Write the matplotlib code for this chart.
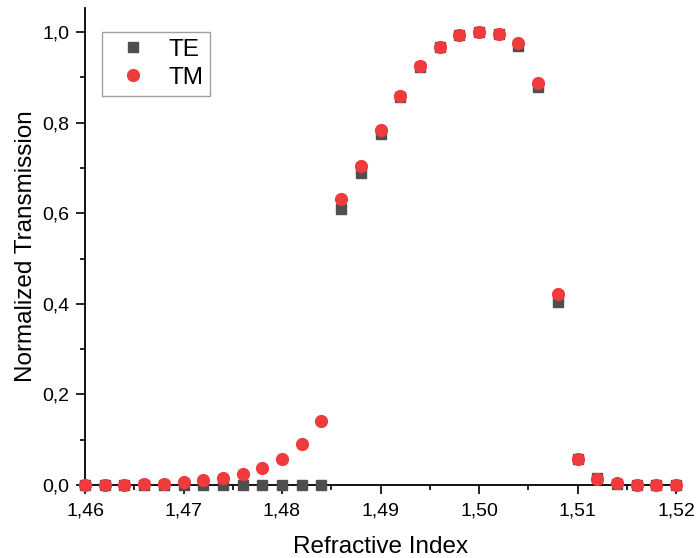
import matplotlib
matplotlib.use("Agg")
import matplotlib.pyplot as plt
from matplotlib.ticker import MultipleLocator, FuncFormatter

plt.rcParams['font.family'] = ['Liberation Sans', 'DejaVu Sans']

n_index = [1.460, 1.462, 1.464, 1.466, 1.468, 1.470, 1.472, 1.474, 1.476, 1.478,
           1.480, 1.482, 1.484, 1.486, 1.488, 1.490, 1.492, 1.494, 1.496, 1.498,
           1.500, 1.502, 1.504, 1.506, 1.508, 1.510, 1.512, 1.514, 1.516, 1.518, 1.520]
te = [0.0, 0.0, 0.0, 0.0, 0.0, 0.0, 0.0, 0.0, 0.0, 0.0,
      0.0, 0.0, 0.0, 0.609, 0.689, 0.774, 0.856, 0.923, 0.968, 0.993,
      1.0, 0.995, 0.970, 0.878, 0.404, 0.057, 0.016, 0.003, 0.0, 0.0, 0.0]
tm = [0.0, 0.0, 0.001, 0.002, 0.003, 0.007, 0.011, 0.016, 0.024, 0.037,
      0.058, 0.091, 0.141, 0.631, 0.704, 0.784, 0.859, 0.924, 0.968, 0.993,
      1.0, 0.996, 0.975, 0.887, 0.422, 0.058, 0.013, 0.004, 0.001, 0.0, 0.0]

fig = plt.figure(figsize=(6.97, 5.58), dpi=100)
ax = fig.add_axes([85/697, 1-485/558, 591/697, 477/558])

ax.plot(n_index, te, linestyle='none', marker='s', markersize=7.5,
        color='#4f4f4f', label='TE', clip_on=False, zorder=3)
ax.plot(n_index, tm, linestyle='none', marker='o', markersize=8.5,
        color='#ef3b3d', label='TM', clip_on=False, zorder=4)

ax.set_xlim(1.46, 1.52)
ax.set_ylim(0, 1.053)
ax.spines['top'].set_visible(False)
ax.spines['right'].set_visible(False)
for s in ('left', 'bottom'):
    ax.spines[s].set_linewidth(1.3)

ax.xaxis.set_major_locator(MultipleLocator(0.01))
ax.xaxis.set_minor_locator(MultipleLocator(0.005))
ax.yaxis.set_major_locator(MultipleLocator(0.2))
ax.yaxis.set_minor_locator(MultipleLocator(0.1))
ax.xaxis.set_major_formatter(FuncFormatter(lambda v, p: f"{v:.2f}".replace('.', ',')))
ax.yaxis.set_major_formatter(FuncFormatter(lambda v, p: f"{v:.1f}".replace('.', ',')))
ax.tick_params(which='major', direction='out', length=6.5, width=1.2, labelsize=14, pad=4.5)
ax.tick_params(axis='x', which='major', pad=6)
ax.tick_params(which='minor', direction='out', length=3.6, width=1.2)

ax.set_xlabel('Refractive Index', fontsize=17.5, labelpad=12)
ax.set_ylabel('Normalized Transmission', fontsize=17.5, labelpad=4)

leg = ax.legend(loc='upper left', bbox_to_anchor=(0.029, 0.950), borderaxespad=0,
                fontsize=17.5, frameon=True, fancybox=False, edgecolor='#888888',
                handletextpad=0.45, handlelength=2.0, markerscale=1.0,
                borderpad=0.28, labelspacing=0.25)
leg.get_frame().set_linewidth(1.0)

fig.savefig('out.png', dpi=100)
